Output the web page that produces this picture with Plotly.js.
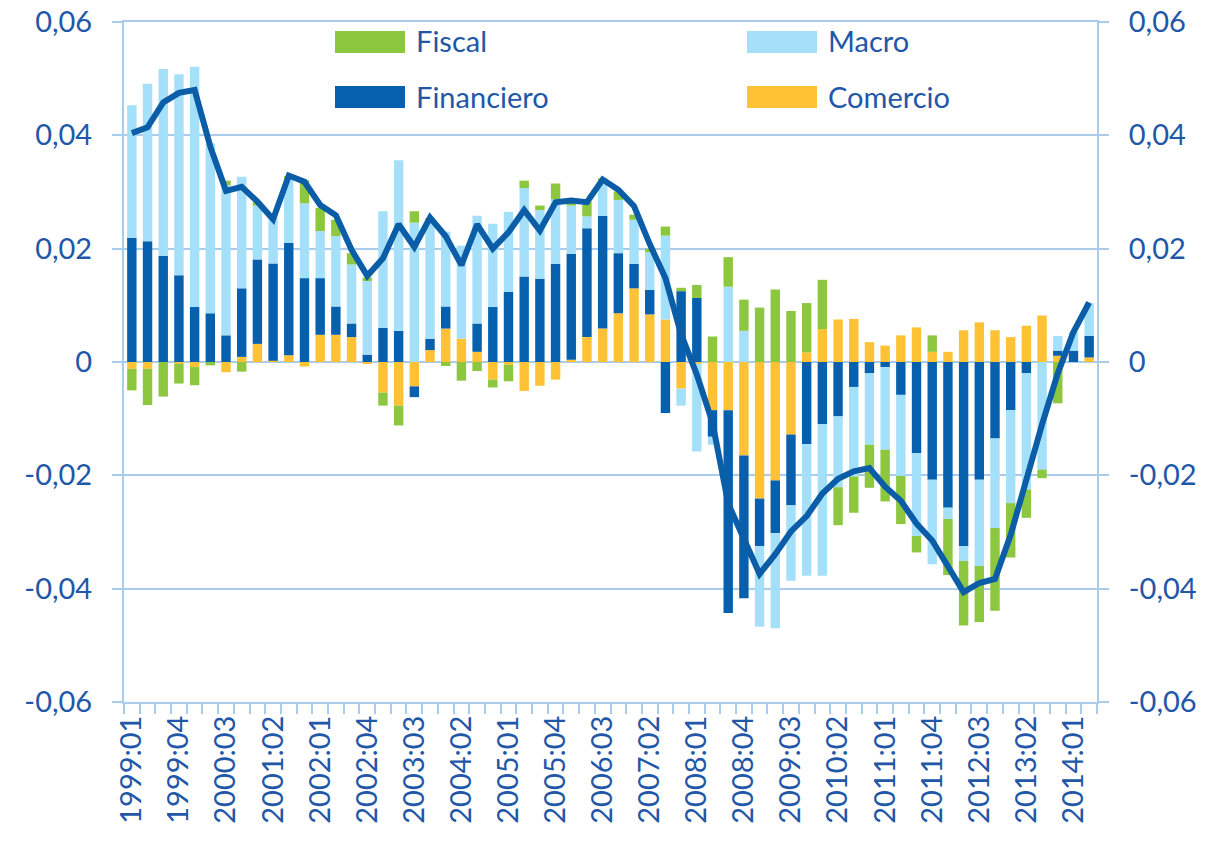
<!DOCTYPE html>
<html>
<head>
<meta charset="utf-8">
<script src="https://cdn.plot.ly/plotly-3.0.1.min.js"></script>
<style>html,body{margin:0;padding:0;background:#fff;}#chart{width:1208px;height:842px;}</style>
</head>
<body>
<div id="chart"></div>
<script>
// Quarters 1999:01 .. 2014:02
var quarters = ["1999:01","1999:02","1999:03","1999:04","2000:01","2000:02","2000:03","2000:04",
"2001:01","2001:02","2001:03","2001:04","2002:01","2002:02","2002:03","2002:04",
"2003:01","2003:02","2003:03","2003:04","2004:01","2004:02","2004:03","2004:04",
"2005:01","2005:02","2005:03","2005:04","2006:01","2006:02","2006:03","2006:04",
"2007:01","2007:02","2007:03","2007:04","2008:01","2008:02","2008:03","2008:04",
"2009:01","2009:02","2009:03","2009:04","2010:01","2010:02","2010:03","2010:04",
"2011:01","2011:02","2011:03","2011:04","2012:01","2012:02","2012:03","2012:04",
"2013:01","2013:02","2013:03","2013:04","2014:01","2014:02"];

var fiscal = [-0.0038,-0.0064,-0.0061,-0.0035,-0.0032,-0.0006,0.0008,-0.0017,
0.0006,0.0000,0.0006,0.0041,0.0041,0.0029,0.0020,0.0006,
-0.0023,-0.0035,0.0020,0.0008,-0.0007,-0.0033,-0.0016,-0.0014,
-0.0029,0.0013,0.0008,0.0028,0.0008,0.0026,0.0004,0.0015,
0.0009,0.0006,0.0016,0.0006,0.0023,0.0045,0.0052,0.0055,
0.0096,0.0128,0.0090,0.0087,0.0087,-0.0067,-0.0064,-0.0076,
-0.0091,-0.0085,-0.0029,0.0029,-0.0099,-0.0114,-0.0099,-0.0146,
-0.0096,-0.0050,-0.0015,-0.0073,0.0000,0.0000];

var macro = [0.0234,0.0278,0.0330,0.0355,0.0424,0.0300,0.0265,0.0197,
0.0095,0.0080,0.0112,0.0132,0.0083,0.0124,0.0104,0.0130,
0.0206,0.0301,0.0246,0.0205,0.0132,0.0164,0.0190,0.0147,
0.0141,0.0156,0.0121,0.0114,0.0085,0.0021,0.0062,0.0094,
0.0078,0.0067,0.0148,-0.0030,-0.0155,-0.0014,0.0133,0.0055,
-0.0142,-0.0168,-0.0133,-0.0232,-0.0267,-0.0125,-0.0158,-0.0126,
-0.0146,-0.0143,-0.0146,-0.0149,-0.0020,-0.0026,-0.0152,-0.0158,
-0.0164,-0.0205,-0.0190,0.0026,0.0033,0.0058];

var financiero = [0.0219,0.0213,0.0187,0.0153,0.0097,0.0086,0.0047,0.0121,
0.0149,0.0172,0.0198,0.0148,0.0100,0.0050,0.0024,0.0013,
0.0060,0.0055,-0.0019,0.0020,0.0039,0.0000,0.0050,0.0097,
0.0124,0.0151,0.0147,0.0173,0.0187,0.0192,0.0199,0.0106,
0.0043,0.0043,-0.0090,0.0125,0.0113,-0.0047,-0.0358,-0.0252,
-0.0084,-0.0093,-0.0125,-0.0145,-0.0110,-0.0096,-0.0044,-0.0020,
-0.0009,-0.0058,-0.0161,-0.0208,-0.0257,-0.0325,-0.0208,-0.0135,
-0.0085,-0.0020,0.0000,0.0009,0.0020,0.0038];

var comercio = [-0.0012,-0.0012,0.0000,-0.0003,-0.0009,0.0000,-0.0018,0.0009,
0.0032,0.0002,0.0012,-0.0008,0.0048,0.0048,0.0044,-0.0002,
-0.0054,-0.0077,-0.0043,0.0021,0.0059,0.0041,0.0018,-0.0031,
-0.0005,-0.0051,-0.0042,-0.0031,0.0004,0.0044,0.0059,0.0086,
0.0130,0.0084,0.0075,-0.0047,-0.0003,-0.0085,-0.0085,-0.0165,
-0.0241,-0.0209,-0.0128,0.0017,0.0058,0.0075,0.0076,0.0035,
0.0029,0.0047,0.0061,0.0018,0.0018,0.0056,0.0070,0.0056,
0.0044,0.0064,0.0082,0.0011,0.0000,0.0008];

var total = [0.0404,0.0414,0.0458,0.0475,0.0480,0.0380,0.0302,0.0309,
0.0283,0.0252,0.0329,0.0318,0.0277,0.0259,0.0198,0.0152,
0.0183,0.0243,0.0203,0.0255,0.0222,0.0171,0.0243,0.0200,
0.0229,0.0268,0.0232,0.0282,0.0285,0.0282,0.0322,0.0304,
0.0275,0.0208,0.0148,0.0049,-0.0022,-0.0107,-0.0250,-0.0310,
-0.0374,-0.0339,-0.0299,-0.0272,-0.0232,-0.0206,-0.0193,-0.0187,
-0.0220,-0.0245,-0.0285,-0.0315,-0.0360,-0.0406,-0.0390,-0.0383,
-0.0305,-0.0205,-0.0110,-0.0020,0.0053,0.0105];

var yTickVals = [-0.06,-0.04,-0.02,0,0.02,0.04,0.06];
var yTickText = ["-0,06","-0,04","-0,02","0","0,02","0,04","0,06"];

var idx = quarters.map(function(q, i){ return i; });
var xTickVals = idx.filter(function(i){ return i % 3 === 0; });
var xTickText = xTickVals.map(function(i){ return quarters[i]; });

var FONT = "Lato, 'Open Sans', sans-serif";
var TXT = "#2257A8";
var GRID = "#A9CCEC";
var C_FIS = "#8DC63F", C_MAC = "#A5E0FA", C_FIN = "#0660AE", C_COM = "#FFC235";

function barTrace(name, vals, color, leg, rank){
  return {type:"bar", name:name, x:idx, y:vals, marker:{color:color},
    legend:leg, legendgroup:name, legendrank:rank,
    customdata: quarters, hovertemplate: "%{customdata}: %{y}<extra>"+name+"</extra>"};
}

var traces = [
  barTrace("Comercio", comercio, C_COM, "legend2", 2),
  barTrace("Financiero", financiero, C_FIN, "legend", 2),
  barTrace("Macro", macro, C_MAC, "legend2", 1),
  barTrace("Fiscal", fiscal, C_FIS, "legend", 1),
  {type:"scatter", mode:"lines", x:idx, y:total, yaxis:"y2", showlegend:false,
   line:{color:"#0A5DA6", width:6}, customdata: quarters,
   hovertemplate:"%{customdata}: %{y}<extra>Total</extra>"}
];

var yCommon = {
  range:[-0.06,0.06], tickmode:"array", tickvals:yTickVals, ticktext:yTickText,
  ticks:"outside", ticklen:10, tickwidth:2, tickcolor:GRID,
  showline:true, linecolor:GRID, linewidth:2, zeroline:false,
  tickfont:{family:FONT, size:29, color:TXT}, ticklabelstandoff:14, fixedrange:true
};

function swatch(cx, cy, color){
  return {type:"rect", xref:"paper", yref:"paper", xsizemode:"pixel", ysizemode:"pixel",
    xanchor:cx, yanchor:cy, x0:-35, x1:35, y0:-11, y1:11, fillcolor:color, line:{width:0}, layer:"above"};
}

var legCommon = {orientation:"v", xanchor:"left", yanchor:"top", y:1.0095,
  bgcolor:"rgba(0,0,0,0)", font:{family:FONT, size:29, color:TXT},
  itemwidth:86, traceorder:"grouped", tracegroupgap:15, itemclick:false, itemdoubleclick:false};

var layout = {
  width:1208, height:842,
  margin:{l:124, r:111, t:22, b:140, pad:0},
  paper_bgcolor:"#ffffff", plot_bgcolor:"#ffffff",
  barmode:"relative", bargap:0.4,
  showlegend:true,
  legend: Object.assign({}, legCommon, {x:0.2015}),
  legend2: Object.assign({}, legCommon, {x:0.6249}),
  font:{family:FONT, color:TXT},
  xaxis:{
    range:[-0.5,61.5], tickmode:"array", tickvals:xTickVals, ticktext:xTickText,
    tickangle:-90, ticks:"", showgrid:false, zeroline:false,
    showline:true, linecolor:GRID, linewidth:2, mirror:true,
    tickfont:{family:FONT, size:29, color:TXT},
    minor:{tickmode:"linear", tick0:-0.5, dtick:1, ticks:"outside", ticklen:10, tickwidth:2, tickcolor:GRID, showgrid:false},
    fixedrange:true
  },
  yaxis: Object.assign({}, yCommon, {side:"left", showgrid:true, gridcolor:GRID, gridwidth:2}),
  yaxis2: Object.assign({}, yCommon, {side:"right", overlaying:"y", showgrid:false}),
  shapes:[
    swatch(0.25283, 0.97059, C_FIS),
    swatch(0.25283, 0.88971, C_FIN),
    swatch(0.67626, 0.97059, C_MAC),
    swatch(0.67626, 0.88971, C_COM)
  ]
};

Plotly.newPlot("chart", traces, layout, {displayModeBar:false, staticPlot:false});
</script>
</body>
</html>
